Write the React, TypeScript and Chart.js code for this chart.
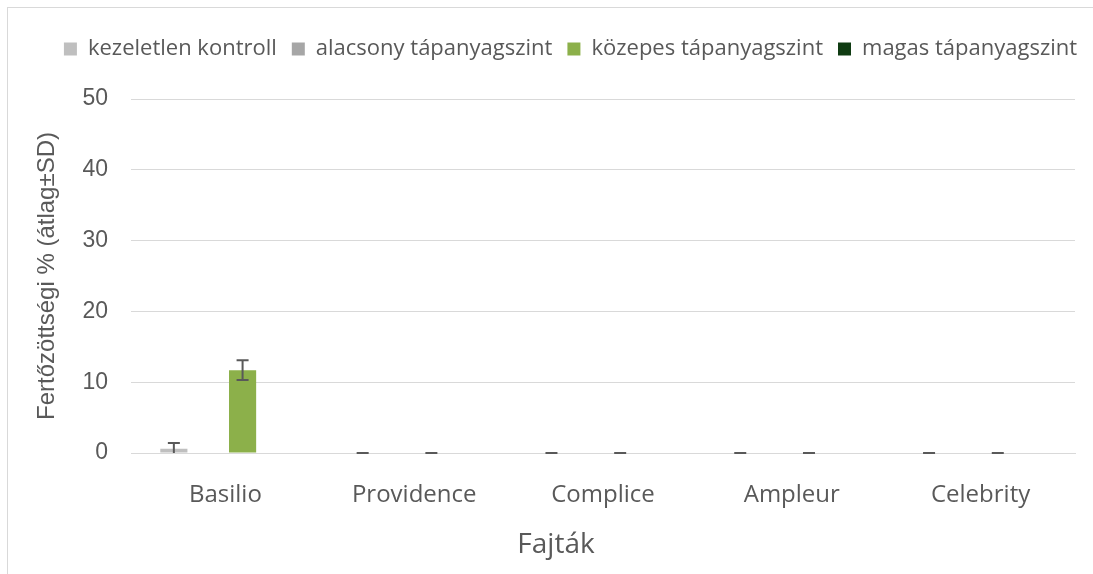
import React, { useEffect, useRef } from 'react';
import { Chart, registerables } from 'chart.js';

Chart.register(...registerables);

// ---- data ----
const categories = ['Basilio', 'Providence', 'Complice', 'Ampleur', 'Celebrity'];
const seriesNames = ['kezeletlen kontroll', 'alacsony tápanyagszint', 'közepes tápanyagszint', 'magas tápanyagszint'];
const kezeletlen = [0.6, 0, 0, 0, 0];
const kezeletlenSD = [0.8, 0, 0, 0, 0];
const alacsony = [0, 0, 0, 0, 0];
const alacsonySD: (number | null)[] = [null, null, null, null, null];
const kozepes = [11.7, 0, 0, 0, 0];
const kozepesSD = [1.4, 0, 0, 0, 0];
const magas = [0, 0, 0, 0, 0];
const magasSD: (number | null)[] = [null, null, null, null, null];
const yTicks = [0, 10, 20, 30, 40, 50];
const yTitle = 'Fertőzöttségi % (átlag±SD)';
const xTitle = 'Fajták';

const seriesValues = [kezeletlen, alacsony, kozepes, magas];
const seriesSD = [kezeletlenSD, alacsonySD, kozepesSD, magasSD];
const seriesColors = ['#BFBFBF', '#A6A6A6', '#8CB04A', '#0F3B12'];

const TEXT = '#595959';
const GRID = '#D9D9D9';

export default function App() {
  const ref = useRef<HTMLCanvasElement | null>(null);

  useEffect(() => {
    const canvas = ref.current;
    if (!canvas) return;

    const errorBars = {
      id: 'errorBars',
      afterDatasetsDraw(chart: any) {
        const ctx = chart.ctx;
        const y = chart.scales.y;
        ctx.save();
        ctx.strokeStyle = TEXT;
        ctx.lineWidth = 2;
        chart.data.datasets.forEach((ds: any, i: number) => {
          const sd = seriesSD[i];
          const meta = chart.getDatasetMeta(i);
          meta.data.forEach((el: any, j: number) => {
            const s = sd[j];
            if (s == null) return;
            const v = ds.data[j];
            const hi = v + s;
            const lo = v - s;
            const x = el.x;
            const yHi = y.getPixelForValue(hi);
            const yLo = y.getPixelForValue(Math.max(lo, y.min));
            ctx.beginPath();
            ctx.moveTo(x, yHi);
            ctx.lineTo(x, yLo);
            ctx.moveTo(x - 6, yHi);
            ctx.lineTo(x + 6, yHi);
            if (lo >= y.min) {
              ctx.moveTo(x - 6, yLo);
              ctx.lineTo(x + 6, yLo);
            }
            ctx.stroke();
          });
        });
        ctx.restore();
      },
    };

    const layoutTweak = {
      id: 'layoutTweak',
      beforeInit(chart: any) {
        const legend = chart.legend;
        if (legend) {
          const fit = legend.fit;
          legend.fit = function () {
            fit.call(this);
            this.height += 29;
          };
        }
      },
      afterLayout(chart: any) {
        if (chart.legend) {
          chart.legend.left += 33;
          chart.legend.right += 33;
        }
        if (chart.titleBlock) {
          chart.titleBlock.left += 18.5;
          chart.titleBlock.right += 18.5;
        }
      },
    };

    const chart = new Chart(canvas, {
      type: 'bar',
      data: {
        labels: categories,
        datasets: seriesNames.map((name, i) => ({
          label: name,
          data: seriesValues[i],
          backgroundColor: seriesColors[i],
          borderWidth: 0,
          categoryPercentage: 0.728,
          barPercentage: 0.79,
        })),
      },
      options: {
        responsive: false,
        animation: false,
        layout: { padding: { top: 23, left: 0, right: 18, bottom: 0 } },
        plugins: {
          legend: {
            position: 'top',
            labels: {
              boxWidth: 13,
              boxHeight: 13,
              padding: 15,
              color: TEXT,
              font: { family: 'Open Sans', size: 22 },
            },
          },
          title: {
            display: true,
            position: 'bottom',
            text: xTitle,
            color: TEXT,
            font: { family: 'Open Sans', size: 28, weight: 'normal' },
            padding: { top: 0, bottom: 12 },
          },
          tooltip: { enabled: false },
        },
        scales: {
          x: {
            grid: { display: false, drawTicks: false },
            border: { display: true, color: GRID, width: 1 },
            ticks: {
              color: TEXT,
              padding: 28,
              font: { family: 'Open Sans', size: 24 },
            },
            afterFit(axis: any) {
              axis.height = 75.4;
            },
          },
          y: {
            min: 0,
            max: 50,
            afterBuildTicks(axis: any) {
              axis.ticks = yTicks.map((v) => ({ value: v }));
            },
            grid: { color: GRID, lineWidth: 1, drawTicks: false },
            border: { display: false },
            ticks: {
              color: TEXT,
              padding: 23,
              font: { family: 'Liberation Sans', size: 23 },
            },
            title: {
              display: true,
              text: yTitle,
              color: TEXT,
              font: { family: 'Liberation Sans', size: 24 },
              padding: { top: 33, bottom: 0 },
            },
            afterFit(axis: any) {
              axis.width = 131;
            },
          },
        },
      },
      plugins: [errorBars, layoutTweak],
    } as any);

    return () => chart.destroy();
  }, []);

  return (
    <div>
      <canvas
        ref={ref}
        width={1093}
        height={574}
        style={{ position: 'fixed', left: 0, top: 0, width: 1093, height: 574 }}
      />
      <div
        style={{
          position: 'fixed',
          left: 7,
          top: 7,
          width: 1085,
          height: 566,
          borderLeft: '1px solid #D9D9D9',
          borderTop: '1px solid #D9D9D9',
          pointerEvents: 'none',
        }}
      />
    </div>
  );
}
